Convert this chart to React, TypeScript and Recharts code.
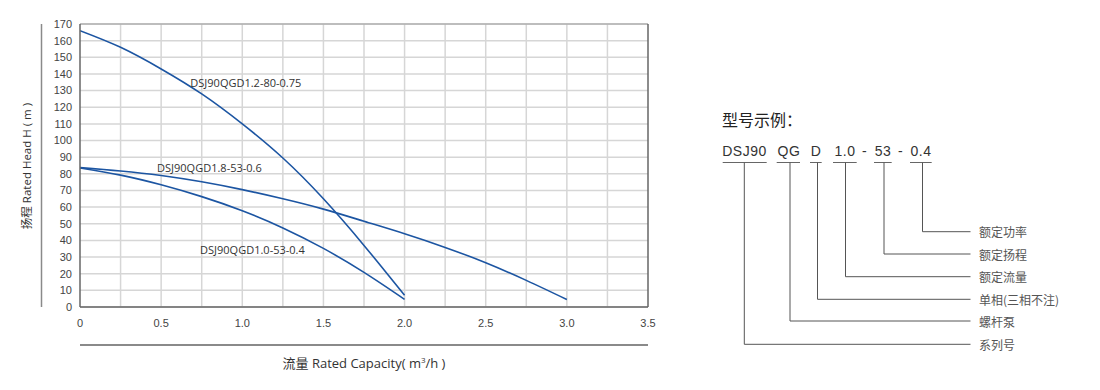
/**
 * App.tsx — DSJ90 pump performance curves (head vs. flow) plus model-code legend.
 */

import { LineChart, Line, XAxis, YAxis, CartesianGrid, ReferenceLine, ReferenceDot } from 'recharts';

// Flow (m³/h) sample points and head (m)
const flowShort = [0, 0.25, 0.5, 0.75, 1.0, 1.25, 1.5, 1.75, 2.0];
const flowLong = [0, 0.25, 0.5, 0.75, 1.0, 1.25, 1.5, 1.75, 2.0, 2.25, 2.5, 2.75, 3.0];

const head12_80 = [166, 156, 143, 128, 110, 89.5, 65, 37, 7];
const head18_53 = [83.7, 81.7, 79, 75.2, 70.5, 65, 58.8, 51.5, 44, 35.8, 26.6, 16, 4.5];
const head10_53 = [83.5, 79.2, 73.4, 66.3, 57.8, 47.5, 35.2, 20.8, 4.6];

const xTicks = [0, 0.5, 1.0, 1.5, 2.0, 2.5, 3.0, 3.5];
const xGrid = [0.25, 0.5, 0.75, 1.0, 1.25, 1.5, 1.75, 2.0, 2.25, 2.5, 2.75, 3.0, 3.25];
const yTicks = [0, 10, 20, 30, 40, 50, 60, 70, 80, 90, 100, 110, 120, 130, 140, 150, 160, 170];

// curve name labels, anchored in data units
const curveLabels = [
  { name: 'DSJ90QGD1.2-80-0.75', q: 0.68, h: 135 },
  { name: 'DSJ90QGD1.8-53-0.6', q: 0.475, h: 83.5 },
  { name: 'DSJ90QGD1.0-53-0.4', q: 0.74, h: 34.8 },
];

// model code example: segment text, centre x, underline span
const codeParts = [
  { text: 'DSJ90', cx: 744.5, x1: 722.7, x2: 766.7 },
  { text: 'QG', cx: 789, x1: 776.7, x2: 800 },
  { text: 'D', cx: 816, x1: 810, x2: 821.7 },
  { text: '1.0', cx: 845, x1: 833, x2: 856.7 },
  { text: '-', cx: 864.5, x1: 0, x2: 0 },
  { text: '53', cx: 883, x1: 874, x2: 891.7 },
  { text: '-', cx: 900.5, x1: 0, x2: 0 },
  { text: '0.4', cx: 921, x1: 910, x2: 931.7 },
];

const codeLegend = [
  { label: '额定功率', from: 922.5, y: 231.7 },
  { label: '额定扬程', from: 884, y: 254 },
  { label: '额定流量', from: 845.5, y: 276.7 },
  { label: '单相(三相不注)', from: 817.5, y: 299.3 },
  { label: '螺杆泵', from: 790, y: 321 },
  { label: '系列号', from: 744.3, y: 344.3 },
];

const toPoints = (flow: number[], head: number[]) => flow.map((q, i) => ({ q, h: head[i] }));

const CURVE_COLOR = '#1c55a2';
const TICK_STYLE = { fill: '#444', fontSize: 11, fontFamily: '"Liberation Sans", Arial, sans-serif' };

export default function App() {
  const seriesA = toPoints(flowShort, head12_80);
  const seriesB = toPoints(flowLong, head18_53);
  const seriesC = toPoints(flowShort, head10_53);

  return (
    <div style={{ position: 'absolute', left: 0, top: 0, width: 1100, height: 390, background: '#fff' }}>
      <LineChart
        width={660}
        height={390}
        margin={{ top: 24, right: 12, bottom: 53, left: 40 }}
        style={{ position: 'absolute', left: 0, top: 0 }}
      >
        <CartesianGrid vertical={false} stroke="#d6d6d6" strokeWidth={1.5} />
        {xGrid.map((v) => (
          <ReferenceLine key={v} x={v} stroke="#d6d6d6" strokeWidth={1.5} />
        ))}
        <ReferenceLine y={170} stroke="#9a9a9a" strokeWidth={1.2} />
        <ReferenceLine x={3.5} stroke="#666" strokeWidth={1.5} />
        <XAxis
          type="number"
          dataKey="q"
          domain={[0, 3.5]}
          ticks={xTicks}
          tickFormatter={(v: number) => (v === 0 ? '0' : v.toFixed(1))}
          tick={TICK_STYLE}
          tickLine={false}
          tickMargin={6}
          axisLine={{ stroke: '#666', strokeWidth: 1.5 }}
          height={30}
          allowDataOverflow
        />
        <YAxis
          type="number"
          domain={[0, 170]}
          ticks={yTicks}
          tick={TICK_STYLE}
          tickLine={false}
          axisLine={{ stroke: '#666', strokeWidth: 1.5 }}
          width={40}
          interval={0}
        />
        {[seriesA, seriesB, seriesC].map((s, i) => (
          <Line
            key={i}
            data={s}
            dataKey="h"
            type="natural"
            stroke={CURVE_COLOR}
            strokeWidth={1.6}
            dot={false}
            isAnimationActive={false}
          />
        ))}
        {curveLabels.map((l) => (
          <ReferenceDot
            key={l.name}
            x={l.q}
            y={l.h}
            r={0}
            shape={(p: { cx: number; cy: number }) => (
              <text
                x={p.cx}
                y={p.cy}
                dominantBaseline="central"
                fontSize={11}
                fontFamily='"Open Sans", sans-serif'
                fill="#333"
              >
                {l.name}
              </text>
            )}
          />
        ))}
      </LineChart>

      <svg width={1100} height={390} style={{ position: 'absolute', left: 0, top: 0, pointerEvents: 'none' }}>
        {/* axis brackets and titles */}
        <line x1={41.5} y1={24} x2={41.5} y2={307} stroke="#8a8a8a" strokeWidth={1.5} />
        <line x1={80} y1={345} x2={648} y2={345} stroke="#8a8a8a" strokeWidth={2} />
        <text
          transform="translate(31,166) rotate(-90)"
          textAnchor="middle"
          fontSize={11.5}
          fontFamily='"Open Sans", "Noto Sans CJK SC", sans-serif'
          fill="#333"
        >
          扬程 Rated Head H ( m )
        </text>
        <text
          x={364}
          y={368}
          textAnchor="middle"
          fontSize={13}
          fontFamily='"Open Sans", "Noto Sans CJK SC", sans-serif'
          fill="#333"
        >
          流量 Rated Capacity( m<tspan dy={-5} fontSize={8}>3</tspan>
          <tspan dy={5}>/h )</tspan>
        </text>

        {/* model code example */}
        <text x={722} y={126} fontSize={16} fontFamily='"Noto Sans CJK SC", sans-serif' fill="#222">
          型号示例：
        </text>
        {codeParts.map((c, i) => (
          <g key={i}>
            <text
              x={c.cx}
              y={155.5}
              textAnchor="middle"
              fontSize={14}
              letterSpacing={0.5}
              fontFamily='"Liberation Sans", Arial, sans-serif'
              fill="#333"
            >
              {c.text}
            </text>
            {c.x2 > 0 && <line x1={c.x1} y1={162.5} x2={c.x2} y2={162.5} stroke="#666" strokeWidth={1} />}
          </g>
        ))}
        {codeLegend.map((r) => (
          <g key={r.label}>
            <polyline
              points={`${r.from},162.5 ${r.from},${r.y} 970.5,${r.y}`}
              fill="none"
              stroke="#555"
              strokeWidth={1}
            />
            <text
              x={979}
              y={r.y}
              dominantBaseline="central"
              fontSize={12}
              fontFamily='"Noto Sans CJK SC", sans-serif'
              fill="#555"
            >
              {r.label}
            </text>
          </g>
        ))}
      </svg>
    </div>
  );
}
